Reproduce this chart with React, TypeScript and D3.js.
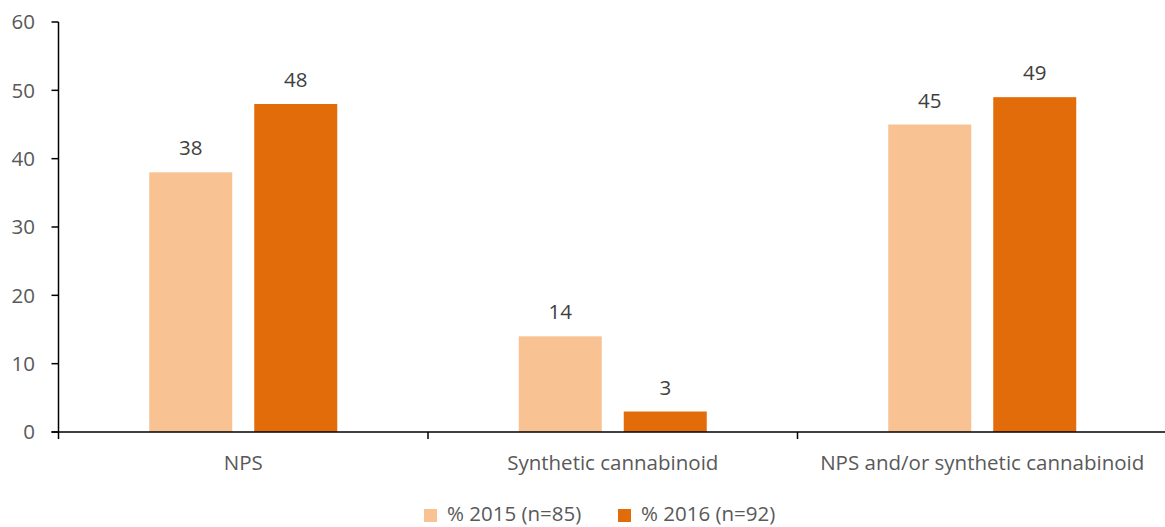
import React from "react";
import * as d3 from "d3";

const categories = ["NPS", "Synthetic cannabinoid", "NPS and/or synthetic cannabinoid"];
const seriesNames = ["% 2015 (n=85)", "% 2016 (n=92)"];
const values2015 = [38, 14, 45];
const values2016 = [48, 3, 49];
const yTicks = [0, 10, 20, 30, 40, 50, 60];
const colors = ["#F9C292", "#E36C0A"];

const W = 1165;
const H = 527;
const FONT = "'Open Sans', sans-serif";
const FS = 20.5;

export default function App() {
  const x0 = 58.5;
  const x1 = 1167;
  const x = d3.scaleBand<string>().domain(categories).range([x0, x1]).padding(0);
  const y = d3.scaleLinear().domain([0, 60]).range([432, 22]);
  const barW = 83;
  const gap = 22;
  const series = [values2015, values2016];
  const bw = x.bandwidth();

  return (
    <svg width={W} height={H} style={{ position: "absolute", left: 0, top: 0, background: "#fff" }}>
      {series.map((vals, si) =>
        vals.map((v, ci) => {
          const groupStart = (x(categories[ci]) as number) + (bw - (2 * barW + gap)) / 2;
          const bx = groupStart + si * (barW + gap);
          return (
            <g key={`${si}-${ci}`}>
              <rect x={bx} y={y(v)} width={barW} height={y(0) - y(v)} fill={colors[si]} />
              <text
                x={bx + barW / 2}
                y={y(v) - 17}
                textAnchor="middle"
                fontFamily={FONT}
                fontSize={FS}
                fill="#404040"
              >
                {v}
              </text>
            </g>
          );
        })
      )}
      {/* y axis */}
      <line x1={x0} x2={x0} y1={y(60)} y2={y(0)} stroke="#000" strokeWidth={1.5} />
      {yTicks.map((t) => (
        <g key={t}>
          <line x1={x0 - 7} x2={x0} y1={y(t)} y2={y(t)} stroke="#000" strokeWidth={1.5} />
          <text
            x={35}
            y={y(t)}
            dy="0.35em"
            textAnchor="end"
            fontFamily={FONT}
            fontSize={FS}
            fill="#595959"
          >
            {t}
          </text>
        </g>
      ))}
      {/* x axis */}
      <line x1={x0 - 7} x2={W} y1={y(0)} y2={y(0)} stroke="#000" strokeWidth={1.5} />
      {categories.map((c) => x(c) as number).map((p, i) => (
        <line key={i} x1={p} x2={p} y1={y(0)} y2={y(0) + 7} stroke="#000" strokeWidth={1.5} />
      ))}
      {categories.map((c) => (
        <text
          key={c}
          x={(x(c) as number) + bw / 2}
          y={470}
          textAnchor="middle"
          fontFamily={FONT}
          fontSize={FS}
          fill="#595959"
        >
          {c}
        </text>
      ))}
      {/* legend */}
      {seriesNames.map((n, i) => {
        const lx = i === 0 ? 424 : 618;
        return (
          <g key={n}>
            <rect x={lx} y={509} width={13} height={13} fill={colors[i]} />
            <text x={lx + 23} y={521} fontFamily={FONT} fontSize={FS} fill="#595959">
              {n}
            </text>
          </g>
        );
      })}
    </svg>
  );
}
